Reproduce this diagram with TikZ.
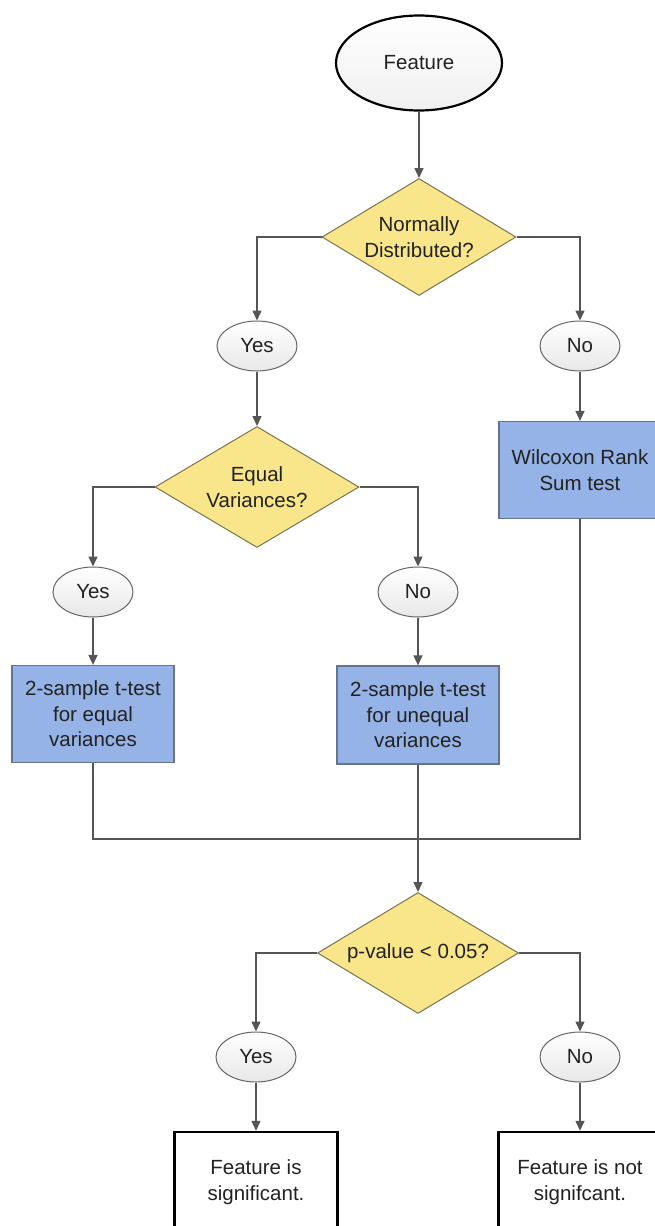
\documentclass[tikz,border=0pt]{standalone}
\usepackage{fontspec}
\setmainfont{Liberation Sans}
\usetikzlibrary{shapes.geometric,arrows.meta}
\definecolor{txt}{HTML}{222222}
\definecolor{lnc}{HTML}{555555}
\definecolor{yfill}{HTML}{FAE68A}
\definecolor{ydraw}{HTML}{7A7350}
\definecolor{bfill}{HTML}{95B3E6}
\definecolor{bdraw}{HTML}{66738F}
\begin{document}
\begin{tikzpicture}[x=1pt,y=-1pt,
  every node/.style={font=\fontsize{20.5}{25.5}\selectfont, text=txt, align=center, inner sep=0pt},
  startnode/.style={ellipse, draw=black, line width=2.2pt, top color=white, bottom color=gray!12, minimum width=166pt, minimum height=95pt},
  answer/.style={ellipse, draw=gray!80!black, line width=1pt, top color=white, bottom color=gray!18, minimum width=80pt, minimum height=50pt},
  decision/.style={diamond, draw=ydraw, line width=1pt, fill=yfill, aspect=1.66},
  testbox/.style={rectangle, draw=bdraw, line width=1.2pt, fill=bfill, minimum width=162pt, minimum height=97pt},
  endbox/.style={rectangle, draw=black, line width=2.5pt, fill=white, minimum width=163pt, minimum height=100pt},
  conn/.style={draw=lnc, line width=1.5pt},
  arr/.style={conn, -{Triangle[length=10pt,width=9pt]}, color=lnc}
]
\useasboundingbox (0,0) rectangle (655,1226);

\node[startnode] (feat) at (419,63) {Feature};
\node[decision, minimum width=194pt, minimum height=117pt] (d1) at (419,237) {Normally\\Distributed?};
\node[answer] (y1) at (257,346) {Yes};
\node[answer] (n1) at (580,346) {No};
\node[decision, minimum width=204pt, minimum height=121pt] (d2) at (257,487) {Equal\\Variances?};
\node[testbox] (wil) at (580,470) {Wilcoxon Rank\\Sum test};
\node[answer] (y2) at (93,592) {Yes};
\node[answer] (n2) at (418,592) {No};
\node[testbox] (t1) at (93,714) {2-sample t-test\\for equal\\variances};
\node[testbox, minimum height=98pt] (t2) at (418,715) {2-sample t-test\\for unequal\\variances};
\coordinate (m) at (418,839);
\node[decision, minimum width=201pt, minimum height=121pt] (d3) at (418,953) {p-value < 0.05?};
\node[answer] (y3) at (256,1057) {Yes};
\node[answer] (n3) at (580,1057) {No};
\node[endbox] (e1) at (256,1182) {Feature is\\significant.};
\node[endbox] (e2) at (580,1182) {Feature is not\\signifcant.};

\draw[arr] (feat.south) -- (d1.north);
\draw[arr] (d1.west) -| (y1.north);
\draw[arr] (d1.east) -| (n1.north);
\draw[arr] (n1.south) -- (wil.north);
\draw[arr] (y1.south) -- (d2.north);
\draw[arr] (d2.west) -| (y2.north);
\draw[arr] (d2.east) -| (n2.north);
\draw[arr] (y2.south) -- (t1.north);
\draw[arr] (n2.south) -- (t2.north);
\draw[conn] (t1.south) |- (m);
\draw[conn] (wil.south) |- (m);
\draw[arr] (t2.south) -- (d3.north);
\draw[arr] (d3.west) -| (y3.north);
\draw[arr] (d3.east) -| (n3.north);
\draw[arr] (y3.south) -- (e1.north);
\draw[arr] (n3.south) -- (e2.north);
\end{tikzpicture}
\end{document}
